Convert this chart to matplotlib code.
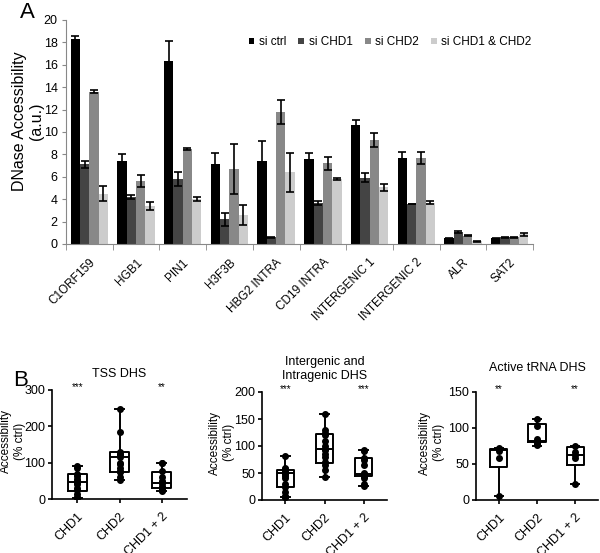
import numpy as np
import matplotlib.pyplot as plt

plt.rcParams['font.family'] = ['Liberation Sans', 'DejaVu Sans']

# Panel A data
loci = ['C1ORF159', 'HGB1', 'PIN1', 'H3F3B', 'HBG2 INTRA', 'CD19 INTRA',
        'INTERGENIC 1', 'INTERGENIC 2', 'ALR', 'SAT2']
series = ['si ctrl', 'si CHD1', 'si CHD2', 'si CHD1 & CHD2']
si_ctrl = [18.3, 7.4, 16.3, 7.1, 7.4, 7.6, 10.65, 7.7, 0.5, 0.5]
si_chd1 = [7.1, 4.2, 5.8, 2.2, 0.6, 3.65, 5.9, 3.55, 1.1, 0.6]
si_chd2 = [13.6, 5.6, 8.5, 6.7, 11.8, 7.2, 9.3, 7.7, 0.75, 0.6]
si_both = [4.5, 3.4, 4.0, 2.6, 6.4, 5.8, 5.05, 3.7, 0.25, 0.85]
err_ctrl = [0.25, 0.6, 1.85, 1.0, 1.8, 0.55, 0.4, 0.55, 0.05, 0.05]
err_chd1 = [0.35, 0.2, 0.65, 0.55, 0.05, 0.2, 0.4, 0.0, 0.1, 0.05]
err_chd2 = [0.15, 0.55, 0.1, 2.25, 1.05, 0.55, 0.6, 0.55, 0.05, 0.05]
err_both = [0.65, 0.35, 0.2, 0.9, 1.75, 0.1, 0.35, 0.1, 0.05, 0.1]
colors_a = ['#000000', '#444444', '#888888', '#cccccc']

# Panel B data
groups = ['CHD1', 'CHD2', 'CHD1 + 2']
tss_pts = [
    [92, 85, 68, 62, 55, 50, 48, 45, 40, 30, 25, 15, 5, 3],
    [247, 185, 128, 125, 120, 115, 100, 95, 85, 78, 75, 60, 52],
    [100, 98, 78, 60, 50, 48, 45, 35, 30, 28, 25, 23, 24],
]
tss_box = [(3, 22, 48, 70, 92), (52, 75, 115, 128, 247), (23, 30, 45, 73, 100)]
inter_pts = [
    [82, 60, 58, 55, 55, 50, 48, 45, 40, 30, 25, 15, 8, 5, 6],
    [160, 130, 125, 120, 110, 100, 95, 92, 85, 80, 70, 65, 55, 43],
    [92, 90, 77, 75, 65, 50, 48, 46, 45, 45, 44, 40, 30, 26],
]
inter_box = [(5, 24, 50, 56, 82), (43, 69, 94, 122, 160), (26, 45, 48, 77, 92)]
trna_pts = [
    [72, 68, 59, 5],
    [113, 103, 85, 80, 78, 76],
    [75, 67, 62, 58, 22],
]
trna_box = [(5, 46, 69, 71, 72), (75, 80, 82, 106, 113), (22, 49, 63, 74, 75)]

W, H = 600, 553
fig = plt.figure(figsize=(6, 5.53), dpi=100)

def px_axes(l, t, r, b):
    return fig.add_axes([l / W, 1 - b / H, (r - l) / W, (b - t) / H])

# ---- Panel A ----
ax = px_axes(66, 20, 533, 244)
x = np.arange(len(loci))
bw = 0.2
vals = [si_ctrl, si_chd1, si_chd2, si_both]
errs = [err_ctrl, err_chd1, err_chd2, err_both]
for i in range(4):
    ax.bar(x + (i - 1.5) * bw, vals[i], bw, color=colors_a[i], label=series[i],
           yerr=errs[i], error_kw=dict(ecolor='black', elinewidth=1.2, capsize=3, capthick=1.2))
ax.set_xlim(-0.5, len(loci) - 0.5)
ax.set_ylim(0, 20)
ax.set_yticks(range(0, 21, 2))
ax.set_xticks(x)
ax.set_xticklabels(loci, rotation=45, ha='right', rotation_mode='anchor', fontsize=8.5)
ax.set_xticks(np.arange(-0.5, len(loci), 1), minor=True)
ax.tick_params(axis='x', which='major', length=0, pad=9)
ax.tick_params(axis='x', which='minor', length=4, direction='out', color='#888888')
ax.tick_params(axis='y', labelsize=9, length=3, color='#888888', pad=3)
for s in ['top', 'right']:
    ax.spines[s].set_visible(False)
ax.spines['left'].set_color('#888888')
ax.spines['bottom'].set_color('#888888')
ax.set_ylabel('DNase Accessibility\n(a.u.)', fontsize=11.5)
ax.yaxis.set_label_coords(-22 / 467, 0.55)
ax.legend(ncol=4, frameon=False, loc='upper right', bbox_to_anchor=(1.02, 0.975),
          fontsize=8.5, handlelength=0.5, handleheight=0.5, handletextpad=0.4,
          columnspacing=1.0)
fig.text(20 / W, 1 - 12 / H, 'A', fontsize=16, va='center')

# ---- Panel B ----
def box_panel(rect, pts, box, ymax, step, title, stars, title_y, label_px):
    axb = px_axes(*rect)
    stats = []
    for lo, q1, med, q3, hi in box:
        stats.append(dict(whislo=lo, q1=q1, med=med, q3=q3, whishi=hi, fliers=[]))
    lw = 1.4
    axb.bxp(stats, positions=[0, 1, 2], widths=0.45, showfliers=False,
            boxprops=dict(color='black', linewidth=lw),
            whiskerprops=dict(color='black', linewidth=lw),
            capprops=dict(color='black', linewidth=lw),
            medianprops=dict(color='black', linewidth=lw))
    for i, p in enumerate(pts):
        axb.plot([i] * len(p), p, 'o', color='black', markersize=4, zorder=3)
    axb.set_xlim(-0.6, 2.6)
    axb.set_ylim(0, ymax)
    axb.set_yticks(np.arange(0, ymax + 1, step))
    axb.set_xticks([0, 1, 2])
    axb.set_xticklabels(groups, rotation=45, ha='right', rotation_mode='anchor', fontsize=9)
    axb.tick_params(labelsize=9, width=1.2, length=3, pad=2)
    axb.tick_params(axis='x', pad=5)
    for s in ['top', 'right']:
        axb.spines[s].set_visible(False)
    for s in ['left', 'bottom']:
        axb.spines[s].set_linewidth(1.2)
    axb.set_ylabel('Accessibility\n(% ctrl)', fontsize=8.5)
    axb.yaxis.set_label_coords(-label_px / (rect[2] - rect[0]), 0.53)
    axb.text(1, title_y, title, ha='center', va='center', fontsize=9,
             transform=axb.get_xaxis_transform(), clip_on=False)
    for i, s in stars.items():
        axb.text(i, 1.03, s, ha='center', va='center', fontsize=7,
                 transform=axb.get_xaxis_transform())
    return axb

box_panel((52, 390, 187, 499), tss_pts, tss_box, 300, 100, 'TSS DHS',
          {0: '***', 2: '**'}, 1.15, 26)
box_panel((262, 392, 387, 500), inter_pts, inter_box, 200, 50,
          'Intergenic and\nIntragenic DHS', {0: '***', 2: '***'}, 1.21, 27)
box_panel((476, 392, 598, 500), trna_pts, trna_box, 150, 50, 'Active tRNA DHS',
          {0: '**', 2: '**'}, 1.22, 31)
fig.text(13 / W, 1 - 381 / H, 'B', fontsize=16, va='center')

fig.savefig('out.png', dpi=100)
